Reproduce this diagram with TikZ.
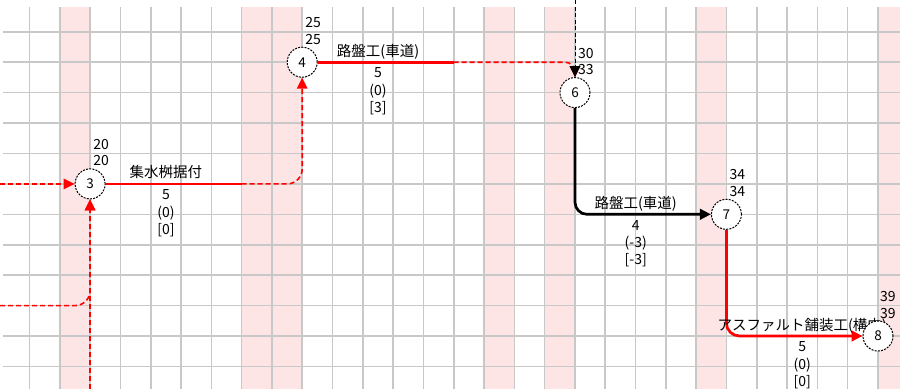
\documentclass[tikz,border=0pt]{standalone}
\usepackage{fontspec}
\setmainfont{Noto Sans CJK JP}
\usetikzlibrary{arrows.meta,calc}
\definecolor{gridgray}{RGB}{200,200,200}
\definecolor{holiday}{RGB}{253,228,229}
\definecolor{pathred}{RGB}{255,0,0}
\pgfdeclarelayer{bg}
\pgfdeclarelayer{edges}
\pgfsetlayers{bg,edges,main}

\begin{document}
\begin{tikzpicture}[x=1pt,y=-1pt,
  event/.style={circle,draw=black,dash pattern=on 2pt off 1.2pt,line width=1pt,
    fill=white,minimum size=30pt,inner sep=0pt,font=\fontsize{13.5}{13.5}\selectfont},
  tip/.style={-{Triangle[length=11pt,width=10.5pt]}},
  crit/.style={draw=pathred,line width=2.7pt},
  slack/.style={draw=pathred,line width=1.6pt,dash pattern=on 5pt off 3pt},
  dummy/.style={draw=black,line width=1pt,dash pattern=on 4pt off 2.5pt},
  noncrit/.style={draw=black,line width=2.7pt},
  evdates/.style={anchor=base west,align=left,inner sep=0pt,font=\fontsize{14}{16.5}\selectfont},
  actname/.style={anchor=base,inner sep=0pt,font=\fontsize{14.5}{17}\selectfont},
  actnums/.style={anchor=base,align=center,inner sep=0pt,font=\fontsize{14}{17.3}\selectfont}
]
\useasboundingbox (0,0) rectangle (900,389);

% calendar: holiday columns and day grid
\begin{pgfonlayer}{bg}
  \fill[white] (0,0) rectangle (900,389);
  \foreach \k in {1,7,8,15,17,22}
    \fill[holiday] ({29.5+30.3*\k},7) rectangle ({29.5+30.3*(\k+1)},389);
  \fill[holiday] ({29.5+30.3*28},7) rectangle (900,389);
  \foreach \k in {0,...,28}
    \draw[gridgray,line width=1.6pt] ({29.5+30.3*\k},7) -- ({29.5+30.3*\k},389);
  \foreach \j in {0,...,11}
    \draw[gridgray,line width=1.6pt] (3,{31.8+30.42*\j}) -- (900,{31.8+30.42*\j});
\end{pgfonlayer}

% events
\node[event] (n3) at (90.1,183.9) {3};
\node[event] (n4) at (302.2,62.2) {4};
\node[event] (n6) at (575,92.6) {6};
\node[event] (n7) at (726.4,214.3) {7};
\node[event] (n8) at (878,336) {8};

% free ends and ends of working days
\coordinate (inL) at (0,183.9);
\coordinate (inB) at (90.1,389);
\coordinate (inL2) at (0,305.6);
\coordinate (inT) at (575,0);
\coordinate (s34) at (241.6,183.9);
\coordinate (s46) at (453.7,62.2);

\begin{pgfonlayer}{edges}
  % activities into event 3
  \draw[slack,tip] (inL) -- (n3);
  \draw[slack,tip,rounded corners=15pt] (inL2) -| (n3.south);
  \draw[slack,tip] (inB) -- (n3);
  % 3 -> 4
  \draw[crit] (n3) -- (s34);
  \draw[slack,tip,rounded corners=15pt] (s34) -| (n4);
  % 4 -> 6
  \draw[crit] (n4) -- (s46);
  \draw[slack,tip,rounded corners=10pt] (s46) -| (n6);
  \draw[dummy,tip] (inT) -- (n6);
  % 6 -> 7
  \draw[noncrit,tip,rounded corners=12pt] (n6) |- (n7);
  % 7 -> 8
  \draw[crit,tip,rounded corners=13pt] (n7) |- (n8);

  % activity names; durations and floats (anchored at the last line)
  \node[actname] (l34) at (165.9,177.9) {集水桝据付};
  \node[actnums] (v34) at (165.9,234.5) {5\\(0)\\{[0]}};
  \node[actname] (l46) at (378,56.2) {路盤工(車道)};
  \node[actnums] (v46) at (378,112.5) {5\\(0)\\{[3]}};
  \node[actname] (l67) at (635.7,208.3) {路盤工(車道)};
  \node[actnums] (v67) at (635.7,264.8) {4\\(-3)\\{[-3]}};
  \node[actname] (l78) at (802.2,330) {アスファルト舗装工(構内)};
  \node[actnums] (v78) at (802.2,386.5) {5\\(0)\\{[0]}};
\end{pgfonlayer}

% earliest / latest dates of each event (anchored at the last line)
\node[evdates] (d3) at ($(n3)+(3,-18)$) {20\\20};
\node[evdates] (d4) at ($(n4)+(3,-18)$) {25\\25};
\node[evdates] (d6) at ($(n6)+(3,-18)$) {30\\33};
\node[evdates] (d7) at ($(n7)+(3,-18)$) {34\\34};
\node[evdates] (d8) at ($(n8)+(2,-18)$) {39\\39};
\end{tikzpicture}
\end{document}
